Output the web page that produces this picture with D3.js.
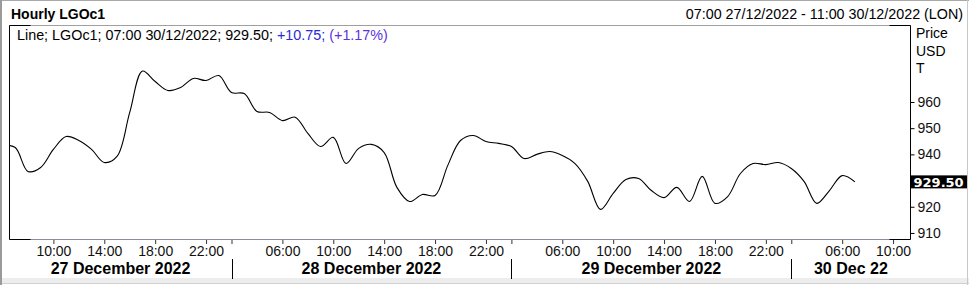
<!DOCTYPE html>
<html>
<head>
<meta charset="utf-8">
<script src="https://cdn.jsdelivr.net/npm/d3@7"></script>
<style>
  html, body { margin: 0; padding: 0; background: #fff; }
  svg { display: block; font-family: "Liberation Sans", Arial, sans-serif; }
</style>
</head>
<body>
<svg id="chart" width="969" height="285"></svg>
<script>
// ---------- data ----------
const title = "Hourly LGOc1";
const rangeText = "07:00 27/12/2022 - 11:00 30/12/2022 (LON)";
const legendMain = "Line; LGOc1; 07:00 30/12/2022; 929.50; ";
const legendChange = "+10.75; ";
const legendPct = "(+1.17%)";
const unitLabels = ["Price", "USD", "T"];
const lastValueLabel = "929.50";

// trading days and their hourly bars (02:00 .. 23:00 London)
const days = ["2022-12-27", "2022-12-28", "2022-12-29", "2022-12-30"];
const dayLabels = ["27 December 2022", "28 December 2022", "29 December 2022", "30 Dec 22"];
const firstHour = 2, lastHour = 23;
// series starts at 06:00 27/12 (clipped at the 07:00 window edge)
const startDay = 0, startHour = 6;
const prices = [
  943.5, 942.6, 933.5, 935.0, 941.9, 946.8, 945.3, 941.9, 936.9, 939.2,
  956.0, 971.8, 967.8, 964.4, 965.5, 969.0, 968.2, 970.1, 963.6, 963.2,
  956.4, 956.0, 952.9, 954.2, 948.0, 943.0, 946.5, 936.5, 942.3, 943.8,
  940.7, 927.4, 922.0, 924.7, 924.3, 935.8, 945.3, 947.2, 944.9, 944.2,
  943.0, 938.4, 940.0, 941.1, 939.6, 936.5, 929.7, 919.0, 925.1, 930.4,
  930.8, 926.2, 923.5, 927.4, 922.0, 931.6, 921.3, 923.9, 932.7, 936.5,
  936.1, 936.9, 934.6, 929.7, 921.3, 926.2, 931.9, 929.5
];
const yTickShown = [910, 920, 940, 950, 960];
const xTickHours = [2, 6, 10, 14, 18, 22];
// window: 07:00 27/12 .. 11:00 30/12
const windowStart = { day: 0, hour: 7 };
const windowEnd = { day: 3, hour: 11 };

// ---------- helpers ----------
const barsPerDay = lastHour - firstHour + 1;
const slot = (d, h) => d * barsPerDay + (h - firstHour);
const series = prices.map((v, i) => ({ s: slot(startDay, startHour) + i, v }));

// ---------- layout ----------
const W = 969, H = 285;
const plot = { left: 9.5, right: 910.5, top: 25.5, bottom: 239.5 };
const svg = d3.select("#chart");

const x = d3.scaleLinear()
  .domain([slot(windowStart.day, windowStart.hour) - 0.45, slot(windowEnd.day, windowEnd.hour) + 0.37])
  .range([plot.left, plot.right]);
const y = d3.scaleLinear()
  .domain([907.5, 989.2])
  .range([plot.bottom, plot.top]);

// outer frame
svg.append("rect").attr("x", 0).attr("y", 0).attr("width", W).attr("height", H).attr("fill", "#fff");
svg.append("rect").attr("x", 0).attr("y", 278).attr("width", W).attr("height", 5).attr("fill", "#ededed");
svg.append("line").attr("x1", 0).attr("x2", W).attr("y1", 283.5).attr("y2", 283.5).attr("stroke", "#d0d0d0");
svg.append("line").attr("x1", 0).attr("x2", W).attr("y1", 0.5).attr("y2", 0.5).attr("stroke", "#a8a8a8");
svg.append("line").attr("x1", 1).attr("x2", 1).attr("y1", 0).attr("y2", H).attr("stroke", "#9a9a9a").attr("stroke-width", 2);
svg.append("line").attr("x1", 967.5).attr("x2", 967.5).attr("y1", 0).attr("y2", H).attr("stroke", "#c8c8c8");

// header
svg.append("text").attr("x", 11).attr("y", 19).attr("font-size", 14).attr("font-weight", "bold")
  .attr("fill", "#000").text(title);
svg.append("text").attr("x", 963).attr("y", 19).attr("font-size", 14.3).attr("text-anchor", "end")
  .attr("fill", "#000").text(rangeText);

// plot frame
svg.append("line").attr("x1", plot.left).attr("x2", plot.right).attr("y1", plot.top).attr("y2", plot.top)
  .attr("stroke", "#a0a0a0");
svg.append("line").attr("x1", plot.left).attr("x2", plot.right).attr("y1", plot.bottom).attr("y2", plot.bottom)
  .attr("stroke", "#8c8ca0");
[[plot.left, plot.left + 21], [plot.right - 21, plot.right]].forEach(([a, b]) => {
  svg.append("line").attr("x1", a).attr("x2", b).attr("y1", plot.top).attr("y2", plot.top).attr("stroke", "#000");
  svg.append("line").attr("x1", a).attr("x2", b).attr("y1", plot.bottom).attr("y2", plot.bottom).attr("stroke", "#000");
});
svg.append("line").attr("x1", plot.left).attr("x2", plot.left).attr("y1", plot.top).attr("y2", plot.bottom).attr("stroke", "#000");
svg.append("line").attr("x1", plot.right).attr("x2", plot.right).attr("y1", plot.top).attr("y2", plot.bottom).attr("stroke", "#000");

// clip
svg.append("clipPath").attr("id", "clip").append("rect")
  .attr("x", plot.left + 0.5).attr("y", plot.top + 0.5)
  .attr("width", plot.right - plot.left - 1).attr("height", plot.bottom - plot.top - 1);

// line
const line = d3.line().x(d => x(d.s)).y(d => y(d.v)).curve(d3.curveCatmullRom.alpha(0.5));
svg.append("path").datum(series).attr("clip-path", "url(#clip)")
  .attr("d", line).attr("fill", "none").attr("stroke", "#000").attr("stroke-width", 1.1);

// legend
const leg = svg.append("text").attr("x", 17).attr("y", 39.5).attr("font-size", 14.35);
leg.append("tspan").attr("fill", "#000").text(legendMain);
leg.append("tspan").attr("fill", "#2a2ad8").text(legendChange);
leg.append("tspan").attr("fill", "#5a33e0").text(legendPct);

// unit labels
unitLabels.forEach((t, i) => {
  svg.append("text").attr("x", 916).attr("y", 38 + i * 17.5).attr("font-size", 14).attr("fill", "#000").text(t);
});

// y axis
const yAxis = d3.axisRight(y).tickValues(yTickShown).tickSize(4).tickPadding(3).tickFormat(d3.format("d"));
const gy = svg.append("g").attr("transform", `translate(${plot.right},0)`).call(yAxis);
gy.select(".domain").remove();
gy.selectAll("line").attr("stroke", "#000");
gy.selectAll("text").attr("font-size", 14).attr("fill", "#111").attr("font-family", "Liberation Sans, Arial, sans-serif");

// last value box
const lastY = y(series[series.length - 1].v);
svg.append("rect").attr("x", plot.right + 0.5).attr("y", lastY - 6.5).attr("width", 56).attr("height", 13).attr("fill", "#000");
svg.append("text").attr("x", plot.right + 3).attr("y", lastY).attr("dy", "0.36em")
  .attr("font-size", 13).attr("font-weight", "bold").attr("font-family", "DejaVu Sans, sans-serif")
  .attr("fill", "#fff").text(lastValueLabel);

// x axis ticks (every 4 hours)
const ticks = [];
days.forEach((d, di) => {
  xTickHours.forEach(h => {
    const s = slot(di, h);
    if (x(s) >= plot.left && x(s) <= plot.right) ticks.push({ s, h });
  });
});
const xAxis = d3.axisBottom(x).tickValues(ticks.map(t => t.s)).tickSize(4).tickPadding(2)
  .tickFormat(s => {
    const h = ((s % barsPerDay) + firstHour);
    return h === firstHour ? "" : String(h).padStart(2, "0") + ":00";
  });
const gx = svg.append("g").attr("transform", `translate(0,${plot.bottom + 0.5})`).call(xAxis);
gx.select(".domain").remove();
gx.selectAll("line").attr("stroke", "#333");
gx.selectAll("text").attr("font-size", 14).attr("fill", "#111").attr("font-family", "Liberation Sans, Arial, sans-serif");

// day separators and labels
days.forEach((d, di) => {
  const a = Math.max(plot.left, x(slot(di, firstHour)));
  const b = Math.min(plot.right, x(slot(di + 1, firstHour)));
  if (di > 0) {
    svg.append("line").attr("x1", Math.round(a) + 0.5).attr("x2", Math.round(a) + 0.5)
      .attr("y1", 259).attr("y2", 279).attr("stroke", "#000");
  }
  svg.append("text").attr("x", (a + b) / 2).attr("y", 273.5).attr("text-anchor", "middle")
    .attr("font-size", 16).attr("font-weight", "bold").attr("fill", "#000").text(dayLabels[di]);
});
</script>
</body>
</html>
